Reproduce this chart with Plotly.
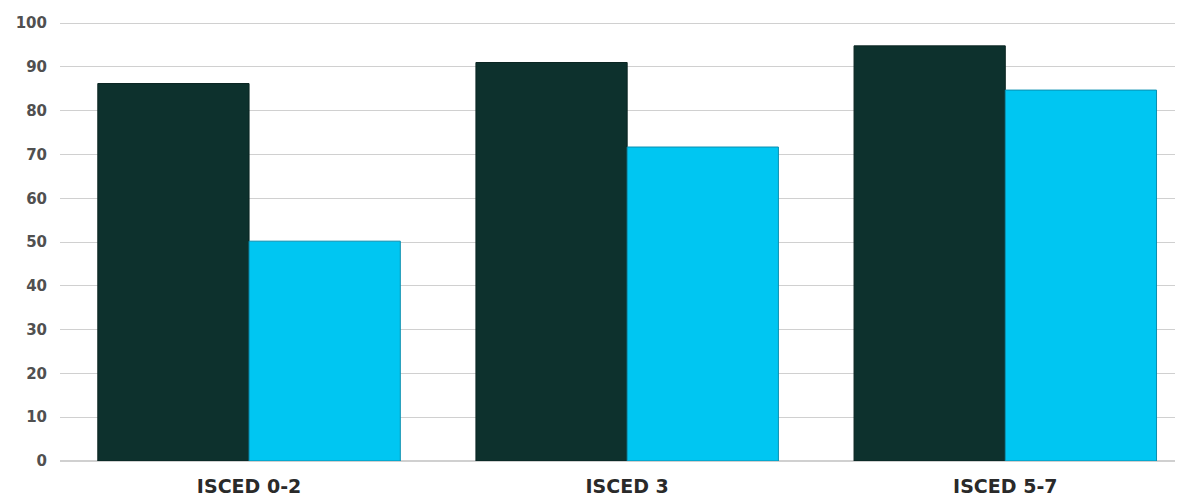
import plotly.graph_objects as go

categories = ['ISCED 0-2', 'ISCED 3', 'ISCED 5-7']
series_dark = [86.2, 91.0, 94.8]
series_light = [50.2, 71.7, 84.7]
y_ticks = [0, 10, 20, 30, 40, 50, 60, 70, 80, 90, 100]

fig = go.Figure()
fig.add_trace(go.Bar(
    x=categories,
    y=series_dark,
    marker=dict(color='#0d312d', line=dict(color='#0a2522', width=1)),
    showlegend=False
))
fig.add_trace(go.Bar(
    x=categories,
    y=series_light,
    marker=dict(color='#00c6f2', line=dict(color='#0a8fb0', width=1)),
    showlegend=False
))

# page body has an 8px offset, so the figure is sized to fill the rest of the window
fig.update_layout(
    width=1175,
    height=492,
    margin=dict(l=52, r=0, t=14, b=39),
    plot_bgcolor='white',
    paper_bgcolor='white',
    barmode='group',
    bargap=0.2,
    bargroupgap=0,
    font=dict(family='DejaVu Sans', color='#333333'),
    xaxis=dict(
        range=[-0.5, 2.47],
        showgrid=False,
        showline=False,
        ticks='',
        automargin=False,
        ticklabelstandoff=12,
        tickfont=dict(size=19, color='#2a2a2a', family='DejaVu Sans', weight='bold'),
    ),
    yaxis=dict(
        range=[0, 100.25],
        tickvals=y_ticks,
        showgrid=True,
        gridcolor='#d0d0d0',
        gridwidth=1,
        zeroline=True,
        zerolinecolor='#d0d0d0',
        showline=False,
        ticks='',
        automargin=False,
        ticklabelstandoff=12,
        tickfont=dict(size=15, color='#505050', family='DejaVu Sans', weight='bold'),
    ),
)

fig.write_html("out.html")
